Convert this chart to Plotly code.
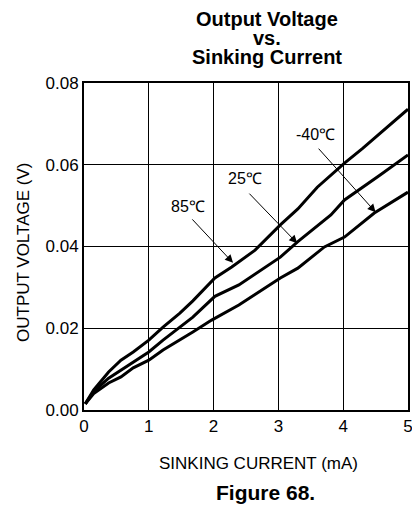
import plotly.graph_objects as go

# Sinking current (mA) vs output voltage (V)
i_85 = [0.02, 0.15, 0.38, 0.57, 0.76, 1.0, 1.22, 1.48, 1.68, 2.02, 2.28, 2.64, 3.03, 3.3, 3.6, 4.02, 4.3, 4.57, 5.0]
v_85 = [0.0015, 0.0049, 0.0093, 0.0122, 0.0142, 0.0171, 0.0203, 0.0237, 0.0267, 0.0323, 0.0350, 0.0391, 0.0453,
        0.0492, 0.0545, 0.0604, 0.0640, 0.0677, 0.0736]

i_25 = [0.02, 0.15, 0.38, 0.57, 0.76, 1.0, 1.22, 1.48, 1.68, 2.02, 2.39, 3.03, 3.3, 3.81, 4.02, 4.57, 5.0]
v_25 = [0.0015, 0.0045, 0.0078, 0.0098, 0.0117, 0.0142, 0.0171, 0.0203, 0.0227, 0.0278, 0.0306, 0.0374, 0.0412,
        0.0477, 0.0514, 0.0575, 0.0624]

i_m40 = [0.02, 0.15, 0.38, 0.57, 0.76, 1.0, 1.22, 1.48, 1.68, 1.97, 2.39, 3.03, 3.3, 3.71, 4.02, 4.48, 5.0]
v_m40 = [0.0015, 0.0040, 0.0066, 0.0081, 0.0103, 0.0122, 0.0147, 0.0171, 0.0191, 0.0220, 0.0257, 0.0323, 0.0347,
         0.0399, 0.0423, 0.0482, 0.0533]

# label text, label position, arrow tail, arrow head (data coords)
labels = ["-40\u2103", "25\u2103", "85\u2103"]
label_pos = [(3.58, 0.0673), (2.48, 0.0567), (1.60, 0.0497)]
arrow_tail = [(3.60, 0.0643), (2.53, 0.0533), (1.65, 0.0470)]
arrow_head = [(4.50, 0.0484), (3.29, 0.0408), (2.30, 0.0360)]

FONT = "Liberation Sans, Arial, sans-serif"
L, R, T, B = 84, 4, 83, 98
PW, PH = 412 - L - R, 508 - T - B


def px(x, y):
    # page pixel -> paper coords
    return (x - L) / PW, (508 - B - y) / PH


fig = go.Figure()
for xs, ys in [(i_85, v_85), (i_25, v_25), (i_m40, v_m40)]:
    fig.add_trace(go.Scatter(x=xs, y=ys, mode="lines", line=dict(color="black", width=3),
                             showlegend=False, hoverinfo="skip"))

for txt, (lx, ly), (tx, ty), (hx, hy) in zip(labels, label_pos, arrow_tail, arrow_head):
    fig.add_annotation(x=lx, y=ly, text=txt, showarrow=False, font=dict(size=16, color="black"))
    fig.add_annotation(x=hx, y=hy, ax=tx, ay=ty, axref="x", ayref="y", text="", showarrow=True,
                       arrowhead=2, arrowsize=1.6, arrowwidth=1, arrowcolor="black")

# title, split into lines so the line spacing can be kept tight
for txt, ypx in [("Output Voltage", 19), ("vs.", 38), ("Sinking Current", 57)]:
    x, y = px(267, ypx)
    fig.add_annotation(xref="paper", yref="paper", x=x, y=y, text="<b>%s</b>" % txt, showarrow=False,
                       yanchor="middle", font=dict(size=20, color="black"))

x, y = px(265, 493)
fig.add_annotation(xref="paper", yref="paper", x=x, y=y, text="<b>Figure 68.</b>", showarrow=False,
                   yanchor="middle", font=dict(size=21, color="black"))

# axis titles sit a little off the plot centre in the original
x, y = px(258, 463)
fig.add_annotation(xref="paper", yref="paper", x=x, y=y, text="SINKING CURRENT (mA)", showarrow=False,
                   yanchor="middle", font=dict(size=17, color="black"))
x, y = px(23, 253)
fig.add_annotation(xref="paper", yref="paper", x=x, y=y, text="OUTPUT VOLTAGE (V)", showarrow=False,
                   textangle=-90, xanchor="center", yanchor="middle", font=dict(size=17, color="black"))

axis_style = dict(showline=True, linewidth=2, linecolor="black", mirror=True,
                  showgrid=True, gridcolor="black", gridwidth=1, zeroline=False, automargin=False,
                  ticks="", tickfont=dict(size=17, color="black"), ticklabeloverflow="allow")

fig.update_xaxes(range=[0, 5], dtick=1, **axis_style)
fig.update_yaxes(range=[0, 0.08], dtick=0.02, tickformat=".2f", **axis_style)

fig.update_layout(width=412, height=508, margin=dict(l=L, r=R, t=T, b=B),
                  plot_bgcolor="white", paper_bgcolor="white",
                  font=dict(family=FONT, color="black"))

# drop the default page margin so the figure sits at the window's corner
fig.write_html("out.html", config={"displayModeBar": False},
               post_script="document.body.style.margin='0';document.body.style.overflow='hidden';")
